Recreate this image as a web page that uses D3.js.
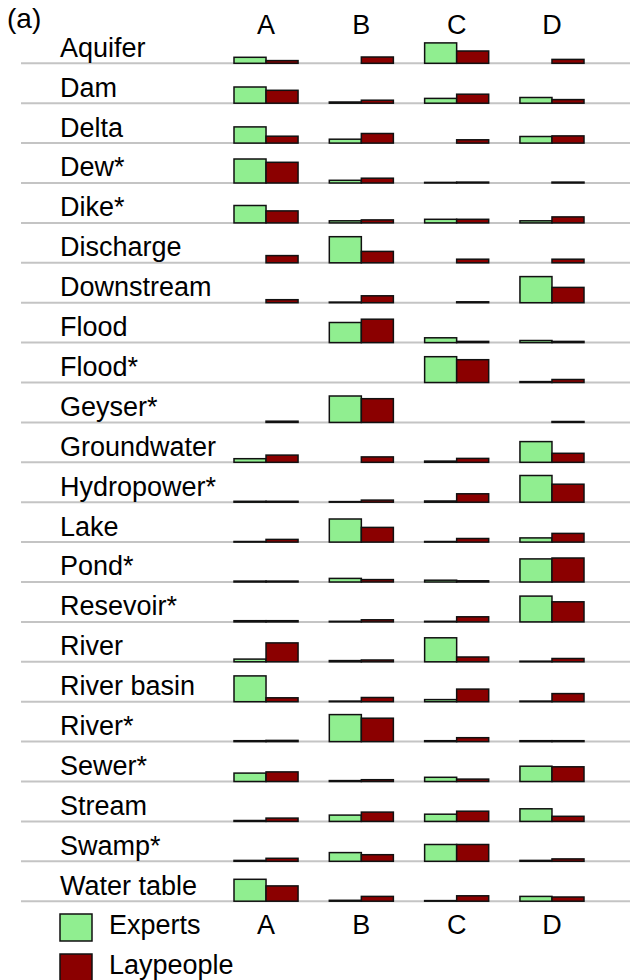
<!doctype html>
<html>
<head>
<meta charset="utf-8">
<title>Experts vs Laypeople</title>
<style>
  body { margin: 0; background: #fff; }
  svg text { font-family: "Liberation Sans", Arial, sans-serif; fill: #000; }
</style>
</head>
<body>
<div id="here"></div>
<script src="https://d3js.org/d3.v7.min.js"></script>
<script>
  var w = 634, h = 980;

  // data (share of answers, 0..1)
  var terms = ["Aquifer", "Dam", "Delta", "Dew*", "Dike*", "Discharge", "Downstream",
    "Flood", "Flood*", "Geyser*", "Groundwater", "Hydropower*", "Lake", "Pond*",
    "Resevoir*", "River", "River basin", "River*", "Sewer*", "Stream", "Swamp*", "Water table"];
  var columns = ["A", "B", "C", "D"];
  var series = ["Experts", "Laypeople"];
  var colors = ["#90ee90", "#8b0000"];

  var experts = [
    [0.20, 0, 0.68, 0],
    [0.54, 0.04, 0.16, 0.19],
    [0.54, 0.13, 0, 0.22],
    [0.80, 0.09, 0.02, 0],
    [0.58, 0.07, 0.12, 0.07],
    [0, 0.87, 0, 0],
    [0, 0.02, 0, 0.87],
    [0, 0.67, 0.16, 0.07],
    [0, 0, 0.86, 0.03],
    [0, 0.88, 0, 0],
    [0.12, 0, 0.04, 0.69],
    [0.03, 0.02, 0.04, 0.89],
    [0.02, 0.77, 0.02, 0.14],
    [0.03, 0.12, 0.06, 0.77],
    [0.04, 0.02, 0.02, 0.86],
    [0.09, 0.04, 0.80, 0.02],
    [0.86, 0.02, 0.07, 0.02],
    [0.03, 0.90, 0.03, 0.03],
    [0.28, 0.03, 0.14, 0.51],
    [0.03, 0.21, 0.24, 0.42],
    [0.03, 0.29, 0.56, 0.03],
    [0.73, 0.03, 0.02, 0.16]
  ];
  var laypeople = [
    [0.09, 0.21, 0.41, 0.13],
    [0.43, 0.10, 0.30, 0.12],
    [0.23, 0.32, 0.11, 0.24],
    [0.69, 0.16, 0.03, 0.03],
    [0.40, 0.10, 0.12, 0.20],
    [0.24, 0.38, 0.12, 0.12],
    [0.10, 0.23, 0.03, 0.51],
    [0, 0.78, 0.04, 0.04],
    [0, 0, 0.76, 0.10],
    [0.04, 0.79, 0, 0.03],
    [0.24, 0.18, 0.13, 0.30],
    [0.03, 0.07, 0.28, 0.60],
    [0.09, 0.49, 0.12, 0.29],
    [0.03, 0.08, 0.04, 0.80],
    [0.04, 0.07, 0.17, 0.67],
    [0.63, 0.06, 0.16, 0.11],
    [0.13, 0.14, 0.42, 0.27],
    [0.04, 0.78, 0.13, 0.03],
    [0.32, 0.06, 0.08, 0.49],
    [0.11, 0.31, 0.34, 0.17],
    [0.10, 0.22, 0.56, 0.08],
    [0.51, 0.16, 0.18, 0.14]
  ];

  // scales
  var yRow = d3.scalePoint().domain(terms).range([63.3, 901.2]);
  var xCol = d3.scaleBand().domain(columns).range([234, 584]).paddingInner(0.328).paddingOuter(0);
  var xSer = d3.scaleBand().domain(series).range([0, xCol.bandwidth()]);
  var hBar = d3.scaleLinear().domain([0, 1]).range([0, 30]);

  var svg = d3.select("#here").append("svg")
    .attr("width", w)
    .attr("height", h);

  svg.append("text").attr("x", 7).attr("y", 28).style("font-size", "28px").text("(a)");

  // column letters top and bottom
  [34, 934].forEach(function(ty) {
    svg.selectAll(null).data(columns).enter().append("text")
      .attr("x", function(d) { return xCol(d) + xCol.bandwidth() / 2; })
      .attr("y", ty)
      .attr("text-anchor", "middle")
      .style("font-size", "27px")
      .text(function(d) { return d; });
  });

  var rows = svg.selectAll("g.row")
    .data(terms.map(function(t, i) { return {term: t, vals: [experts[i], laypeople[i]]}; }))
    .enter().append("g")
    .attr("class", "row")
    .attr("transform", function(d) { return "translate(0," + yRow(d.term) + ")"; });

  rows.append("line")
    .attr("x1", 21).attr("x2", 630)
    .attr("y1", 0).attr("y2", 0)
    .attr("stroke", "#c4c4c4")
    .attr("stroke-width", 2);

  rows.append("text")
    .attr("x", 60)
    .attr("y", -6.6)
    .style("font-size", "27px")
    .text(function(d) { return d.term; });

  // one rect per column and series, skipped when the value is zero
  rows.selectAll("rect")
    .data(function(d) {
      var out = [];
      columns.forEach(function(c, ci) {
        series.forEach(function(s, si) {
          out.push({col: c, ser: s, si: si, v: d.vals[si][ci]});
        });
      });
      return out.filter(function(b) { return b.v > 0; });
    })
    .enter().append("rect")
    .attr("x", function(b) { return xCol(b.col) + xSer(b.ser); })
    .attr("y", function(b) { return -hBar(b.v); })
    .attr("width", xSer.bandwidth())
    .attr("height", function(b) { return hBar(b.v); })
    .attr("fill", function(b) { return colors[b.si]; })
    .attr("stroke", "#111")
    .attr("stroke-width", 1.5);

  // legend
  var leg = svg.selectAll("g.leg").data(series).enter().append("g")
    .attr("class", "leg")
    .attr("transform", function(d, i) { return "translate(60," + (914 + i * 40) + ")"; });
  leg.append("rect")
    .attr("width", 32).attr("height", 27)
    .attr("fill", function(d, i) { return colors[i]; })
    .attr("stroke", "#111").attr("stroke-width", 1.5);
  leg.append("text")
    .attr("x", 49).attr("y", 20)
    .style("font-size", "27px")
    .text(function(d) { return d; });
</script>
</body>
</html>
